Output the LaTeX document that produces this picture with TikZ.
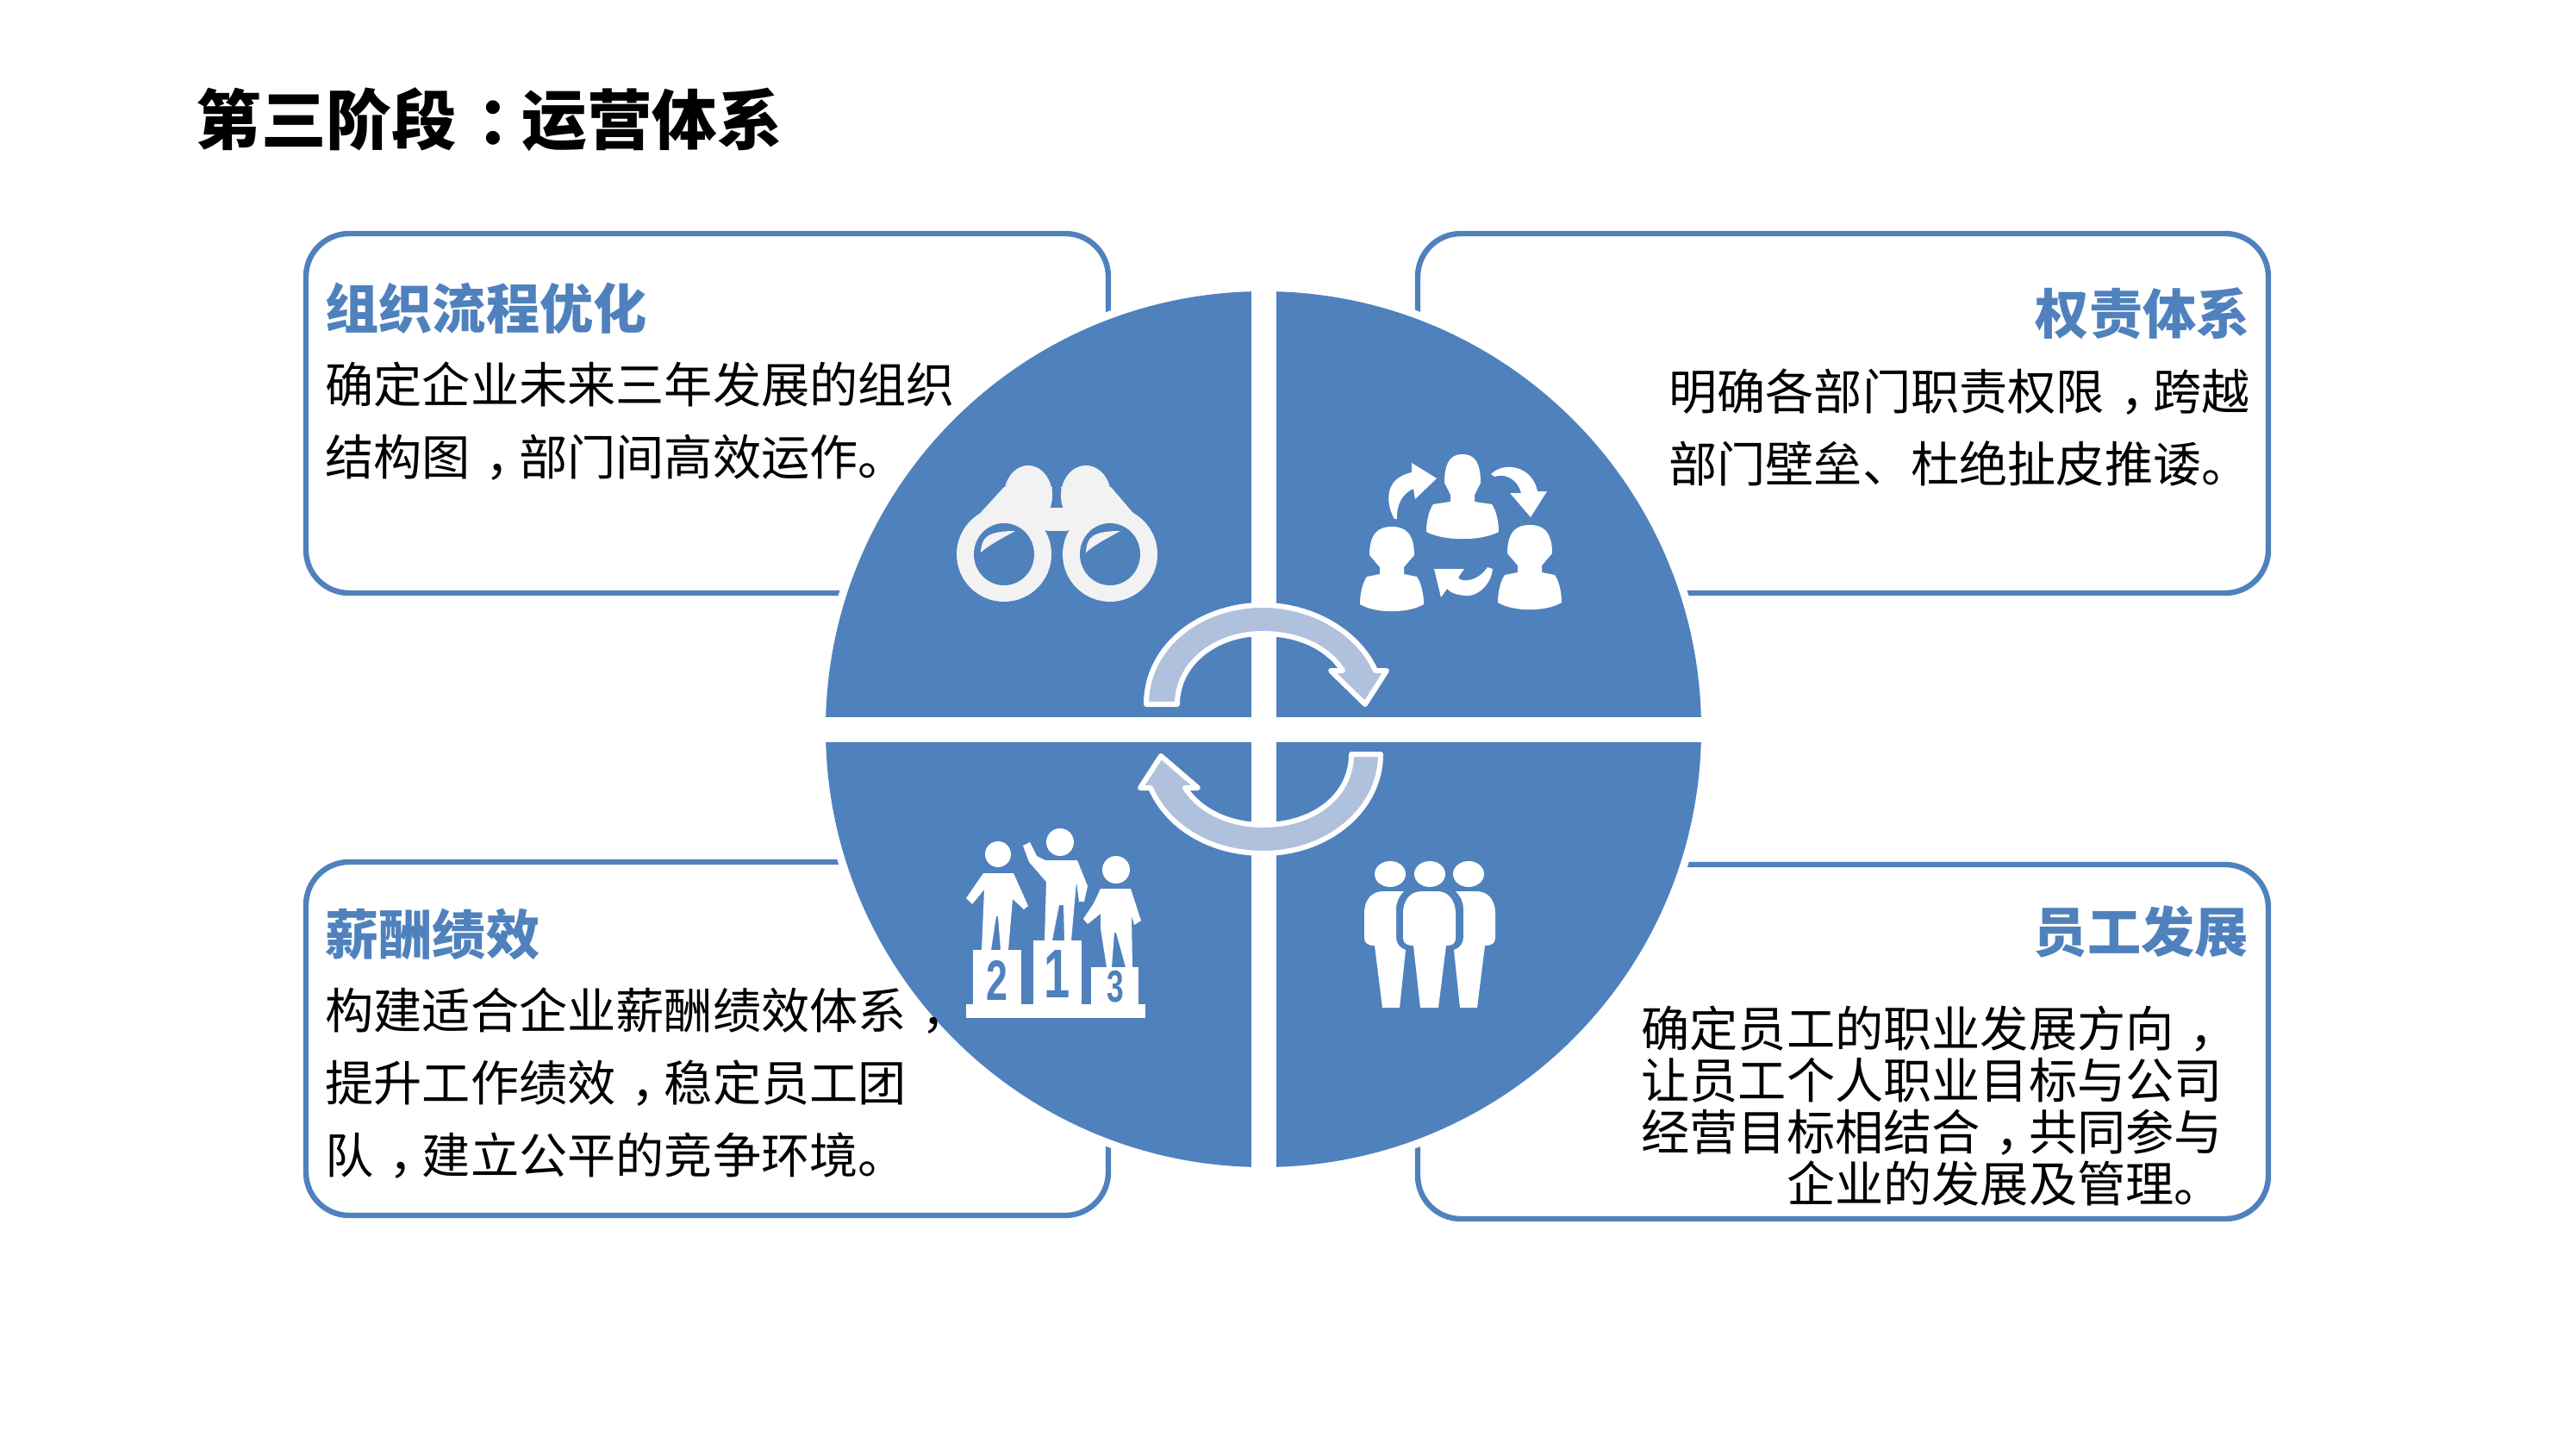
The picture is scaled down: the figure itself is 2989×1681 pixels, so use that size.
\documentclass[tikz,border=0pt]{standalone}
\usepackage{fontspec}
\setmainfont{Noto Sans CJK SC}
\newfontfamily\dcnum{Liberation Sans}
\definecolor{dcblue}{HTML}{4F81BD}
\definecolor{dclight}{HTML}{B0C1DD}
\definecolor{dcgray}{HTML}{F2F2F2}
\newcommand{\dcbust}[4]{% cx, top, head half width, shoulder half width
  \fill[white] ({#1-#3},{#2+33}) .. controls ({#1-#3},{#2+5}) and ({#1-#3*0.5},{#2}) .. ({#1},{#2})
   .. controls ({#1+#3*0.5},{#2}) and ({#1+#3},{#2+5}) .. ({#1+#3},{#2+33})
   -- ({#1+14},{#2+47}) -- ({#1+14},{#2+55}) -- ({#1+#4-8},{#2+58})
   .. controls ({#1+#4-3},{#2+65}) and ({#1+#4},{#2+78}) .. ({#1+#4},{#2+90})
   .. controls ({#1+#4*0.5},{#2+101}) and ({#1-#4*0.5},{#2+101}) .. ({#1-#4},{#2+90})
   .. controls ({#1-#4},{#2+78}) and ({#1-#4+3},{#2+65}) .. ({#1-#4+8},{#2+58})
   -- ({#1-14},{#2+55}) -- ({#1-14},{#2+47}) -- cycle;}
\tikzset{
  boxline/.style={draw=dcblue,line width=3.2pt,rounded corners=25pt,fill=white},
  bodytext/.style={inner sep=0pt,text=black,font=\fontsize{28.1pt}{42pt}\selectfont},
  headtext/.style={inner sep=0pt,text=dcblue,font=\fontsize{31.1pt}{40pt}\selectfont\bfseries},
  looparrow/.style={fill=dclight,draw=white,line width=3pt,line join=round},
  numtext/.style={inner sep=0pt,text=dcblue,transform shape,xscale=.68}
}
\newcommand{\dcfirst}{\rule{0pt}{28pt}}
\newcommand{\dcc}[1]{\makebox[1em][l]{\kern.32em #1}}
\begin{document}
\begin{tikzpicture}[x=0.5pt,y=-0.5pt]
\useasboundingbox[fill=white] (0,0) rectangle (2989,1681);
% panels
\draw[boxline] (355,271) rectangle (1286,688);
\draw[boxline] (1645,271) rectangle (2632,688);
\draw[boxline] (355,1000) rectangle (1286,1410);
\draw[boxline] (1645,1003) rectangle (2632,1414);
% disc
\fill[white] (1466,846) circle[radius=517];
\fill[dcblue] (1466,846) circle[radius=508];
\fill[white] (1452,330) rectangle (1481,1362);
\fill[white] (950,832) rectangle (1982,861);
% title and texts
\node[anchor=west,inner sep=0pt,font=\fontsize{37.8pt}{44pt}\selectfont\bfseries] (title) at (227,139) {第三阶段\dcc{：}运营体系};
\node[headtext,anchor=west] (h1) at (377,358) {组织流程优化};
\node[bodytext,anchor=north west,align=left] (b1) at (377,411) {\dcfirst 确定企业未来三年发展的组织\\结构图\dcc{，}部门间高效运作。};
\node[headtext,anchor=east] (h2) at (2611,364) {权责体系};
\node[bodytext,anchor=north east,align=left] (b2) at (2611,419) {\dcfirst 明确各部门职责权限\dcc{，}跨越\\部门壁垒、杜绝扯皮推诿。};
\node[headtext,anchor=west] (h3) at (377,1084) {薪酬绩效};
\node[bodytext,anchor=north west,align=left] (b3) at (377,1137) {\dcfirst 构建适合企业薪酬绩效体系\dcc{，}\\提升工作绩效\dcc{，}稳定员工团\\队\dcc{，}建立公平的竞争环境。};
\node[headtext,anchor=east] (h4) at (2609,1081) {员工发展};
\node[bodytext,anchor=north west,align=right,font=\fontsize{28.1pt}{30pt}\selectfont] (b4) at (1904,1158) {\dcfirst 确定员工的职业发展方向\dcc{，}\\让员工个人职业目标与公司\\经营目标相结合\dcc{，}共同参与\\企业的发展及管理。};
% binoculars
\fill[dcgray] (1165,643) ellipse[x radius=55,y radius=55];
\fill[dcgray] (1288,643) ellipse[x radius=55,y radius=55];
\fill[dcgray] (1193,575) ellipse[x radius=28,y radius=35];
\fill[dcgray] (1260,575) ellipse[x radius=29,y radius=35];
\fill[dcgray] (1165,565) -- (1133,600) -- (1217,616) -- (1217,589) -- (1221,565) -- cycle;
\fill[dcgray] (1289,565) -- (1319,600) -- (1236,616) -- (1238,589) -- (1231,565) -- cycle;
\fill[dcgray] (1215,589) rectangle (1238,616);
\fill[dcblue] (1165,643) ellipse[x radius=35,y radius=36];
\fill[dcblue] (1288,643) ellipse[x radius=35,y radius=36];
\fill[dcgray] (1138,641) .. controls (1139,625) and (1143,616) .. (1178,616) .. controls (1160,626) and (1148,632) .. (1138,641) -- cycle;
\fill[dcgray] (1260,641) .. controls (1261,625) and (1265,616) .. (1300,616) .. controls (1282,626) and (1270,632) .. (1260,641) -- cycle;
% people cycle
\dcbust{1697}{527}{21}{42}
\dcbust{1615}{611}{26}{37}
\dcbust{1775}{609}{26}{37}
\fill[white] (1618,602) .. controls (1608,585) and (1605,555) .. (1638,548) -- (1638,537) -- (1667,555) -- (1642,579) -- (1640,567) .. controls (1628,572) and (1620,585) .. (1621,602) -- cycle;
\fill[white] (1730,550) .. controls (1745,535) and (1778,540) .. (1784,570) -- (1795,570) -- (1776,600) -- (1752,572) -- (1765,572) .. controls (1762,558) and (1748,548) .. (1734,553) -- cycle;
\fill[white] (1664,660) -- (1699,660) -- (1692,670) .. controls (1695,676) and (1715,675) .. (1726,658) -- (1732,660) .. controls (1730,680) and (1712,693) .. (1700,691) .. controls (1690,690) and (1683,688) .. (1679,683) -- (1672,693) -- cycle;
% podium
\fill[white] (1121,1165) rectangle (1329,1181);
\fill[white] (1129,1102) rectangle (1185,1166);
\fill[white] (1199,1091) rectangle (1255,1166);
\fill[white] (1266,1122) rectangle (1321,1166);
\node[numtext,font=\dcnum\bfseries\fontsize{33pt}{33pt}\selectfont] (n2) at (1157,1137) {2};
\node[numtext,font=\dcnum\bfseries\fontsize{40pt}{40pt}\selectfont] (n1) at (1227,1130) {1};
\node[numtext,font=\dcnum\bfseries\fontsize{26pt}{26pt}\selectfont] (n3) at (1294,1145) {3};
\fill[white] (1158,991) ellipse[x radius=15,y radius=15];
\fill[white] (1230,977) ellipse[x radius=16,y radius=16];
\fill[white] (1295,1009) ellipse[x radius=16,y radius=16];
\fill[white] (1141,1013) -- (1176,1013) -- (1193,1051) -- (1188,1055) -- (1175,1043) -- (1170,1102) -- (1161,1102) -- (1158,1063) -- (1156,1063) -- (1150,1102) -- (1139,1102) -- (1142,1032) -- (1128,1049) -- (1121,1042) -- cycle;
\fill[white] (1213,998) -- (1250,998) -- (1262,1028) -- (1258,1046) -- (1252,1046) -- (1249,1023) -- (1243,1091) -- (1235,1091) -- (1234,1050) -- (1229,1050) -- (1221,1091) -- (1212,1091) -- (1214,1023) -- (1194,1000) -- (1187,981) -- (1195,977) -- (1203,993) -- cycle;
\fill[white] (1277,1031) -- (1312,1031) -- (1324,1068) -- (1316,1073) -- (1313,1062) -- (1314,1122) -- (1306,1122) -- (1295,1082) -- (1293,1082) -- (1290,1122) -- (1284,1122) -- (1277,1077) -- (1277,1060) -- (1262,1072) -- (1257,1066) -- (1269,1048) -- cycle;
% three figures
\fill[white] (1613,1014) ellipse[x radius=18,y radius=15];
\fill[white] (1659,1014) ellipse[x radius=18,y radius=15];
\fill[white] (1704,1014) ellipse[x radius=18,y radius=15];
\fill[white] (1628,1060) .. controls (1628,1042) and (1638,1034) .. (1650,1034) -- (1668,1034) .. controls (1680,1034) and (1689,1044) .. (1689,1060) -- (1689,1088) .. controls (1689,1095) and (1685,1097) .. (1678,1097) -- (1669,1169) -- (1648,1169) -- (1640,1097) .. controls (1632,1097) and (1628,1094) .. (1628,1088) -- cycle;
\fill[white] (1583,1060) .. controls (1583,1042) and (1593,1034) .. (1605,1034) -- (1629,1034) .. controls (1623,1040) and (1620,1047) .. (1620,1055) -- (1620,1088) .. controls (1620,1095) and (1625,1100) .. (1631,1102) -- (1624,1169) -- (1604,1169) -- (1595,1097) .. controls (1587,1097) and (1583,1094) .. (1583,1088) -- cycle;
\fill[white] (1735,1060) .. controls (1735,1042) and (1725,1034) .. (1713,1034) -- (1689,1034) .. controls (1695,1040) and (1698,1047) .. (1698,1055) -- (1698,1088) .. controls (1698,1095) and (1693,1100) .. (1687,1102) -- (1694,1169) -- (1714,1169) -- (1723,1097) .. controls (1731,1097) and (1735,1094) .. (1735,1088) -- cycle;
% loop arrows
\path[looparrow] (1330,817) .. controls (1330,750) and (1392,702) .. (1465,702)
  .. controls (1525,702) and (1577,735) .. (1596,778) -- (1609,778) -- (1584,817) -- (1544,778) -- (1558,778)
  .. controls (1540,750) and (1505,735) .. (1465,735)
  .. controls (1410,735) and (1366,770) .. (1366,817) -- cycle;
\path[looparrow] (1602,875) .. controls (1602,940) and (1540,990) .. (1466,990)
  .. controls (1405,990) and (1355,960) .. (1335,914) -- (1323,914) -- (1347,877) -- (1390,914) -- (1375,914)
  .. controls (1392,940) and (1425,957) .. (1466,957)
  .. controls (1522,957) and (1568,925) .. (1568,875) -- cycle;
\end{tikzpicture}
\end{document}
